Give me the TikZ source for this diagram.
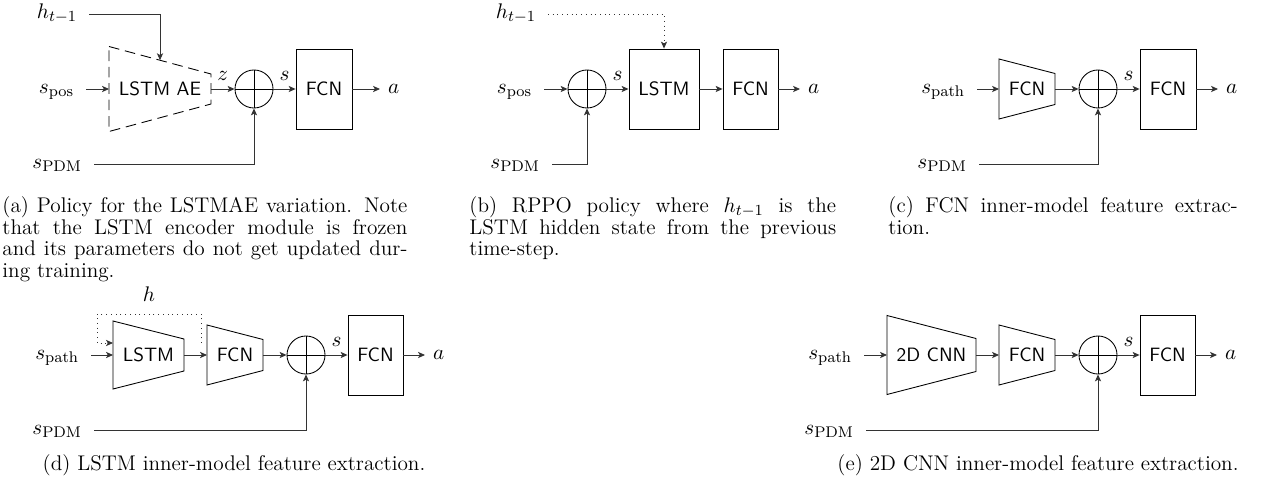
\documentclass[tikz,border=0pt]{standalone}
\usetikzlibrary{calc,arrows.meta}

% trapezoidal block: [draw options]{name}{centre}{half width}{left half height}{right half height}{text}
\newcommand{\trapblock}[7][]{%
  \node[trapbody] (#2) at (#3) {#7};
  \draw[#1] ($(#2)+(-#4,-#5)$) -- ($(#2)+(#4,-#6)$) -- ($(#2)+(#4,#6)$) -- ($(#2)+(-#4,#5)$) -- cycle;
  \coordinate (#2-w) at ($(#2)+(-#4,0)$);
  \coordinate (#2-e) at ($(#2)+(#4,0)$);
}

\begin{document}
\begin{tikzpicture}[x=0.518pt, y=-0.518pt,
  line width=0.45pt,
  conn/.style={-{Stealth[length=3.6pt,width=3.2pt,inset=0.9pt]}, draw=black!80},
  mathlbl/.style={font=\fontsize{11.3}{13}\selectfont},
  lbl/.style={mathlbl, inner xsep=6pt, inner ysep=0pt, anchor=mid east},
  outlbl/.style={mathlbl, inner xsep=4pt, inner ysep=0pt, anchor=mid west},
  blockbox/.style={draw, font=\sffamily, minimum height=41.44pt, inner sep=0pt},
  trapbody/.style={font=\sffamily, inner sep=0pt},
  aedash/.style={dash pattern=on 5.5pt off 3pt},
  sumnode/.style={draw, circle, minimum size=19.7pt, inner sep=0pt,
    path picture={\draw (path picture bounding box.north) -- (path picture bounding box.south)
                        (path picture bounding box.west) -- (path picture bounding box.east);}},
  edgelbl/.style={mathlbl, above=4.2pt, inner sep=0pt, midway},
  capfont/.style={font=\fontsize{11}{11.3}\selectfont},
  cap/.style={capfont, anchor=north west, inner sep=0pt, text width=#1, align=justify},
  capline/.style={capfont, anchor=base, inner sep=0pt}
]
\useasboundingbox (0,0) rectangle (1264,483);

% ---------- (a) LSTM AE policy ----------
\node[lbl] (ha) at (89,14) {$h_{t-1}$};
\trapblock[aedash]{ae}{160,89}{51}{42.5}{15}{LSTM AE}
\coordinate (ae-top) at ($(ae)+(0,-28.75)$);
\draw[conn] (ha.mid east) -| (ae-top);
\node[lbl] (sposa) at (86,89) {$s_{\mathrm{pos}}$};
\draw[conn] (sposa.mid east) -- (ae-w);
\node[sumnode] (suma) at (254,89) {};
\draw[conn] (ae-e) -- node[edgelbl] (za) {$z$} (suma);
\node[blockbox, minimum width=29pt] (fcna) at (324,89) {FCN};
\draw[conn] (suma) -- node[edgelbl] (sa) {$s$} (fcna);
\node[outlbl] (aa) at (380,89) {$a$};
\draw[conn] (fcna) -- (aa.mid west);
\node[lbl] (spdma) at (94,164) {$s_{\mathrm{PDM}}$};
\draw[conn] (spdma.mid east) -| (suma);

% ---------- (b) RPPO policy ----------
\node[lbl] (hb) at (548,14) {$h_{t-1}$};
\node[blockbox, minimum width=36.3pt] (lstmb) at (664,89) {LSTM};
\draw[conn, dotted] (hb.mid east) -| (lstmb.north);
\node[lbl] (sposb) at (544,89) {$s_{\mathrm{pos}}$};
\node[sumnode] (sumb) at (587,89) {};
\draw[conn] (sposb.mid east) -- (sumb);
\draw[conn] (sumb) -- node[edgelbl] (sb) {$s$} (lstmb);
\node[blockbox, minimum width=28.5pt] (fcnb) at (750.5,89) {FCN};
\draw[conn] (lstmb) -- (fcnb);
\node[outlbl] (ab) at (800,89) {$a$};
\draw[conn] (fcnb) -- (ab.mid west);
\node[lbl] (spdmb) at (552,164) {$s_{\mathrm{PDM}}$};
\draw[conn] (spdmb.mid east) -| (sumb);

% ---------- (c) FCN feature extraction ----------
\node[lbl] (spathc) at (977,89) {$s_{\mathrm{path}}$};
\trapblock{fcnc}{1027,89}{28}{30}{15.5}{FCN}
\draw[conn] (spathc.mid east) -- (fcnc-w);
\node[sumnode] (sumc) at (1098,89) {};
\draw[conn] (fcnc-e) -- (sumc);
\node[blockbox, minimum width=29pt] (headc) at (1168,89) {FCN};
\draw[conn] (sumc) -- node[edgelbl] (sc) {$s$} (headc);
\node[outlbl] (ac) at (1218,89) {$a$};
\draw[conn] (headc) -- (ac.mid west);
\node[lbl] (spdmc) at (979,164) {$s_{\mathrm{PDM}}$};
\draw[conn] (spdmc.mid east) -| (sumc);

% ---------- (d) LSTM feature extraction ----------
\node[lbl] (spathd) at (91,355) {$s_{\mathrm{path}}$};
\trapblock{lstmd}{148.5,355}{35.5}{34}{16}{LSTM}
\draw[conn] (spathd.mid east) -- (lstmd-w);
\trapblock{fcnd}{235,355}{28}{30}{15.5}{FCN}
\draw[conn] (lstmd-e) -- (fcnd-w);
\coordinate (loopd) at ($(lstmd-e)+(17,-12)$);
\coordinate (lstmd-in) at ($(lstmd-w)+(0,-12)$);
\draw[conn, dotted] (loopd) -- ++(0,-29) -- node[mathlbl, midway, above=6pt, inner sep=0pt] (hd) {$h$} ++(-104,0) |- (lstmd-in);
\node[sumnode] (sumd) at (306,355) {};
\draw[conn] (fcnd-e) -- (sumd);
\node[blockbox, minimum width=28.5pt] (headd) at (375.5,355) {FCN};
\draw[conn] (sumd) -- node[edgelbl] (sd) {$s$} (headd);
\node[outlbl] (ad) at (425,355) {$a$};
\draw[conn] (headd) -- (ad.mid west);
\node[lbl] (spdmd) at (94,430) {$s_{\mathrm{PDM}}$};
\draw[conn] (spdmd.mid east) -| (sumd);

% ---------- (e) 2D CNN feature extraction ----------
\node[lbl] (spathe) at (864,355) {$s_{\mathrm{path}}$};
\trapblock{cnne}{931.5,355}{44.5}{39.5}{16.5}{2D CNN}
\draw[conn] (spathe.mid east) -- (cnne-w);
\trapblock{fcne}{1027,355}{28}{30}{15.5}{FCN}
\draw[conn] (cnne-e) -- (fcne-w);
\node[sumnode] (sume) at (1098,355) {};
\draw[conn] (fcne-e) -- (sume);
\node[blockbox, minimum width=28.5pt] (heade) at (1167.5,355) {FCN};
\draw[conn] (sume) -- node[edgelbl] (se) {$s$} (heade);
\node[outlbl] (ae2) at (1217,355) {$a$};
\draw[conn] (heade) -- (ae2.mid west);
\node[lbl] (spdme) at (866,430) {$s_{\mathrm{PDM}}$};
\draw[conn] (spdme.mid east) -| (sume);

% ---------- captions ----------
\node[cap=209.8pt] (capa) at (2,196) {(a) Policy for the LSTMAE variation. Note\linebreak that the LSTM encoder module is frozen\linebreak and its parameters do not get updated dur-\linebreak ing training.};
\node[cap=190pt] (capb) at (469,196) {(b) RPPO policy where $h_{t-1}$ is the\linebreak LSTM hidden state from the previous\linebreak time-step.};
\node[cap=181pt] (capc) at (888,196) {(c) FCN inner-model feature extrac-\linebreak tion.};
\node[capline] (capd) at (234,470) {(d) LSTM inner-model feature extraction.};
\node[capline] (cape) at (1038,470) {(e) 2D CNN inner-model feature extraction.};
\end{tikzpicture}
\end{document}
